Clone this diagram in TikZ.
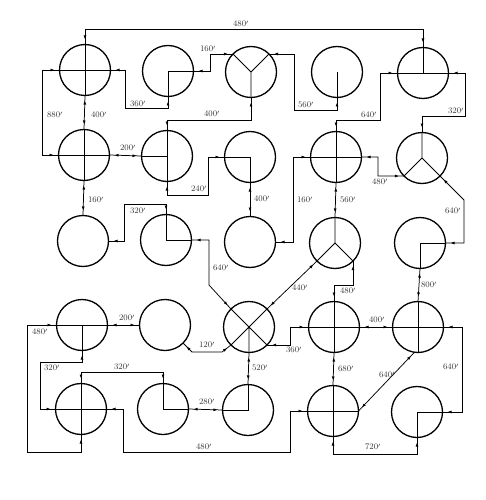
\documentclass[tikz,border=0pt]{standalone}
\usetikzlibrary{arrows.meta,decorations.markings}
\begin{document}
\begin{tikzpicture}[x=1pt,y=-1pt,
  ring/.style={circle,draw,line width=1.3pt,minimum size=51pt,inner sep=0pt,outer sep=0pt},
  rad/.style={line width=0.8pt},
  conn/.style={line width=0.75pt, postaction={decorate,decoration={markings,
      mark=at position 5pt with {\arrowreversed{Latex[length=4pt,width=3pt]}},
      mark=at position -5pt with {\arrow{Latex[length=4pt,width=3pt]}}}}},
  lab/.style={font=\fontsize{8.5}{10}\selectfont, text=black!80, inner sep=0pt}]
\useasboundingbox (0,0) rectangle (485,500);
% circles
\node[ring] (c11) at (85,70) {};
\node[ring] (c12) at (168,71) {};
\node[ring] (c13) at (251,72) {};
\node[ring] (c14) at (337,72) {};
\node[ring] (c15) at (423,73) {};
\node[ring] (c21) at (84,155) {};
\node[ring] (c22) at (167,156) {};
\node[ring] (c23) at (250,157) {};
\node[ring] (c24) at (336,157) {};
\node[ring] (c25) at (422,158) {};
\node[ring] (c31) at (83,241) {};
\node[ring] (c32) at (166,240) {};
\node[ring] (c33) at (250,242) {};
\node[ring] (c34) at (335,243) {};
\node[ring] (c35) at (420,243) {};
\node[ring] (c41) at (82,325) {};
\node[ring] (c42) at (165,325) {};
\node[ring] (c43) at (249,327) {};
\node[ring] (c44) at (334,327) {};
\node[ring] (c45) at (418,327) {};
\node[ring] (c51) at (81,409) {};
\node[ring] (c52) at (163,409) {};
\node[ring] (c53) at (248,410) {};
\node[ring] (c54) at (333,411) {};
\node[ring] (c55) at (417,412) {};
% internal marks
\draw[rad] (c11.west) -- (c11.east) (c11.north) -- (c11.south);
\draw[rad] (c12.east) -- (c12.center) -- (c12.south);
\draw[rad] (c13.center) -- (c13.south) (c13.center) -- (c13.45) (c13.center) -- (c13.135);
\draw[rad] (c14.center) -- (c14.south);
\draw[rad] (c15.west) -- (c15.east) (c15.center) -- (c15.north);
\draw[rad] (c21.west) -- (c21.east) (c21.north) -- (c21.south);
\draw[rad] (c22.north) -- (c22.south) (c22.center) -- (c22.west);
\draw[rad] (c23.west) -- (c23.center) -- (c23.south);
\draw[rad] (c24.west) -- (c24.east) (c24.north) -- (c24.south);
\draw[rad] (c25.center) -- (c25.north) (c25.center) -- (c25.225) (c25.center) -- (c25.315);
\draw[rad] (c32.north) -- (c32.center) -- (c32.east);
\draw[rad] (c34.center) -- (c34.north) (c34.center) -- (c34.225) (c34.center) -- (c34.315);
\draw[rad] (c35.east) -- (c35.center) -- (c35.south);
\draw[rad] (c41.west) -- (c41.east) (c41.center) -- (c41.south);
\draw[rad] (c43.45) -- (c43.225) (c43.135) -- (c43.315) (c43.center) -- (c43.south);
\draw[rad] (c44.west) -- (c44.east) (c44.north) -- (c44.south);
\draw[rad] (c45.west) -- (c45.east) (c45.north) -- (c45.south);
\draw[rad] (c51.west) -- (c51.east) (c51.north) -- (c51.south);
\draw[rad] (c52.north) -- (c52.center) -- (c52.east);
\draw[rad] (c53.north) -- (c53.center) -- (c53.west);
\draw[rad] (c54.west) -- (c54.east) (c54.north) -- (c54.south);
\draw[rad] (c55.east) -- (c55.center) -- (c55.south);
% connectors
\draw[conn] (c11.north) |- (423,29) -- (c15.north);
\draw[conn] (c11.west) -- (42,70) |- (c21.west);
\draw[conn] (c11.south) -- (c21.north);
\draw[conn] (c12.south) |- (125,108) |- (c11.east);
\draw[conn] (c12.east) -- (210,71) |- (c13.135);
\draw[conn] (c22.north) |- (251,120) -- (c13.south);
\draw[conn] (c13.45) -| (294,110) -| (c14.south);
\draw[conn] (c15.west) -| (380,120) -| (c24.north);
\draw[conn] (c15.east) -| (465,116) -| (c25.north);
\draw[conn] (c21.east) -- (c22.west);
\draw[conn] (c22.south) |- (208,195) |- (c23.west);
\draw[conn] (c23.south) -- (c33.north);
\draw[conn] (c24.west) -| (293,242) -- (c33.east);
\draw[conn] (c24.east) -| (378,176) -- (c25.225);
\draw[conn] (c24.south) -- (c34.north);
\draw[conn] (c25.-45) -- (464,200) |- (c35.east);
\draw[conn] (c32.north) |- (124,204) |- (c31.east);
\draw[conn] (c21.south) -- (c31.north);
\draw[conn] (c32.east) -| (209,285) -- (c43.135);
\draw[conn] (c34.225) -- (c43.45);
\draw[conn] (c34.-45) |- (334,285) -- (c44.north);
\draw[conn] (c35.south) -- (c45.north);
\draw[conn] (c41.east) -- (c42.west);
\draw[conn] (c41.west) -| (27,452) -| (c51.south);
\draw[conn] (c41.south) |- (40,362) |- (c51.west);
\draw[conn] (c51.north) |- (163,372) -- (c52.north);
\draw[conn] (c51.east) -| (123,452) -| (290,411) -- (c54.west);
\draw[conn] (c52.east) -- (c53.west);
\draw[conn] (c43.south) -- (c53.north);
\draw[conn] (c42.-45) -- (192,352) -- (222,352) -- (c43.225);
\draw[conn] (c43.-45) -| (290,327) -- (c44.west);
\draw[conn] (c44.east) -- (c45.west);
\draw[conn] (c45.east) -| (462,412) -- (c55.east);
\draw[conn] (c44.south) -- (c54.north);
\draw[conn] (c54.east) -- (c45.-98);
\draw[conn] (c54.south) |- (417,454) -- (c55.south);
% labels
\node[lab] (l01) at (241,24) {480$'$};
\node[lab] (l02) at (55,115) {880$'$};
\node[lab] (l03) at (99,115) {400$'$};
\node[lab] (l04) at (138,104) {360$'$};
\node[lab] (l05) at (208,49) {160$'$};
\node[lab] (l06) at (212,114) {400$'$};
\node[lab] (l07) at (306,105) {560$'$};
\node[lab] (l08) at (369,115) {640$'$};
\node[lab] (l09) at (456,111) {320$'$};
\node[lab] (l10) at (128,148) {200$'$};
\node[lab] (l11) at (199,189) {240$'$};
\node[lab] (l12) at (262,199) {400$'$};
\node[lab] (l13) at (305,200) {160$'$};
\node[lab] (l14) at (380,182) {480$'$};
\node[lab] (l15) at (348,200) {560$'$};
\node[lab] (l16) at (453,211) {640$'$};
\node[lab] (l17) at (138,211) {320$'$};
\node[lab] (l18) at (96,200) {160$'$};
\node[lab] (l19) at (221,268) {640$'$};
\node[lab] (l20) at (300,288) {440$'$};
\node[lab] (l21) at (348,291) {480$'$};
\node[lab] (l22) at (429,285) {800$'$};
\node[lab] (l23) at (127,318) {200$'$};
\node[lab] (l24) at (40,332) {480$'$};
\node[lab] (l25) at (52,368) {320$'$};
\node[lab] (l26) at (122,367) {320$'$};
\node[lab] (l27) at (204,447) {480$'$};
\node[lab] (l28) at (207,402) {280$'$};
\node[lab] (l29) at (260,368) {520$'$};
\node[lab] (l30) at (207,345) {120$'$};
\node[lab] (l31) at (294,350) {360$'$};
\node[lab] (l32) at (377,320) {400$'$};
\node[lab] (l33) at (451,367) {640$'$};
\node[lab] (l34) at (346,369) {680$'$};
\node[lab] (l35) at (387,375) {640$'$};
\node[lab] (l36) at (373,447) {720$'$};
\end{tikzpicture}
\end{document}
